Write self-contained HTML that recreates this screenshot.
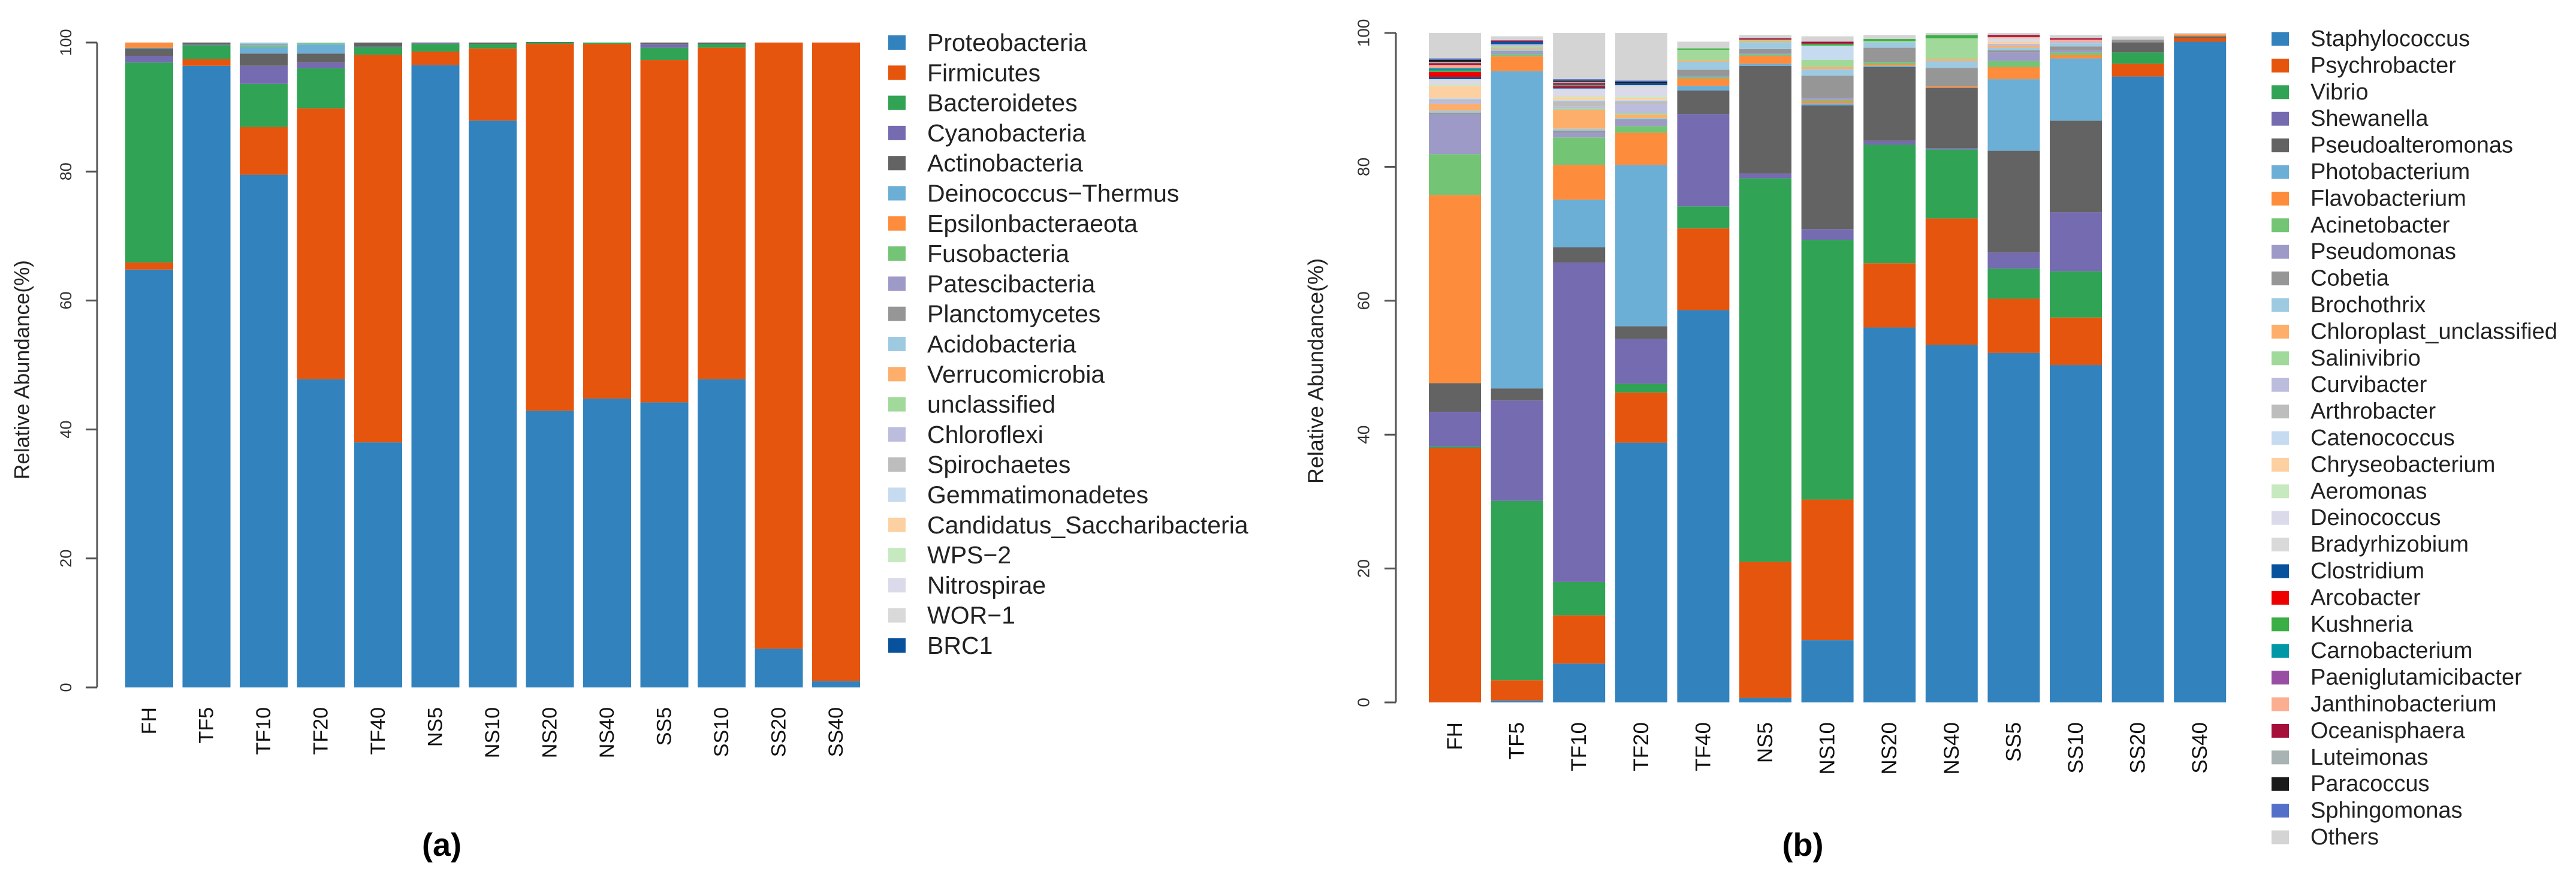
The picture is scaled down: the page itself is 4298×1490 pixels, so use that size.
<!DOCTYPE html>
<html><head><meta charset="utf-8">
<style>
html,body{margin:0;padding:0;background:#fff;}
svg{display:block;font-family:"Liberation Sans",Arial,sans-serif;}
</style></head>
<body>
<svg id="fig" width="4298" height="1490" viewBox="0 0 4298 1490">
  <g id="chartA"></g>
  <g id="chartB"></g>
  <text x="737" y="1428" font-size="54" font-weight="bold" text-anchor="middle">(a)</text>
  <text x="3008" y="1428" font-size="54" font-weight="bold" text-anchor="middle">(b)</text>
</svg>
<script>
const samples = ["FH","TF5","TF10","TF20","TF40","NS5","NS10","NS20","NS40","SS5","SS10","SS20","SS40"];
const yTicks = [0,20,40,60,80,100];

// Chart (a): phylum level
const aProteobacteria = [64.8,96.4,79.5,47.8,38.0,96.5,87.9,42.9,44.8,44.2,47.8,6.0,1.0];
const aFirmicutes     = [1.1,1.0,7.4,42.0,60.1,2.1,11.2,56.9,55.0,53.1,51.4,94.0,99.0];
const aBacteroidetes  = [31.0,2.2,6.7,6.2,1.2,1.2,0.7,0.2,0.2,1.9,0.6,0,0];
const aCyanobacteria  = [1.0,0.1,2.8,0.9,0.1,0.1,0,0,0,0.5,0,0,0];
const aActinobacteria = [1.2,0.3,1.9,1.4,0.6,0.1,0.2,0.1,0,0.3,0.2,0,0];
const aDeinococcus    = [0.1,0,1.0,1.4,0,0,0,0,0,0,0,0,0];
const aEpsilon        = [0.8,0,0,0,0,0,0,0,0,0,0,0,0];
const aFuso           = [0,0,0.3,0.2,0,0,0,0,0,0,0,0,0];
const aPatesci        = [0,0,0.2,0,0,0,0,0,0,0,0,0,0];
const aPlancto        = [0,0,0,0,0,0,0,0,0,0,0,0,0];
const aAcido          = [0,0,0.2,0.1,0,0,0,0,0,0,0,0,0];
const aRest           = [0,0,0,0,0,0,0,0,0,0,0,0,0];
const aNames = ["Proteobacteria","Firmicutes","Bacteroidetes","Cyanobacteria","Actinobacteria","Deinococcus\u2212Thermus","Epsilonbacteraeota","Fusobacteria","Patescibacteria","Planctomycetes","Acidobacteria","Verrucomicrobia","unclassified","Chloroflexi","Spirochaetes","Gemmatimonadetes","Candidatus_Saccharibacteria","WPS\u22122","Nitrospirae","WOR\u22121","BRC1"];
const aColors = ["#3182bd","#e6550d","#31a354","#756bb1","#636363","#6baed6","#fd8d3c","#74c476","#9e9ac8","#969696","#9ecae1","#fdae6b","#a1d99b","#bcbddc","#bdbdbd","#c6dbef","#fdd0a2","#c7e9c0","#dadaeb","#d9d9d9","#08519c"];
const aSeries = [aProteobacteria,aFirmicutes,aBacteroidetes,aCyanobacteria,aActinobacteria,aDeinococcus,aEpsilon,aFuso,aPatesci,aPlancto,aAcido,aRest];

// Chart (b): genus level
const bStaph   = [0,0.3,5.8,38.8,58.6,0.7,9.3,56.0,53.4,52.2,50.4,93.5,98.7];
const bPsychro = [38.0,3.0,7.2,7.5,12.2,20.3,21.0,9.6,18.9,8.1,7.1,1.9,0.5];
const bVibrio  = [0.2,26.8,5.0,1.3,3.3,57.3,38.8,17.7,10.3,4.5,6.9,1.7,0];
const bShew    = [5.2,15.0,47.7,6.7,13.8,0.7,1.6,0.6,0.2,2.4,8.8,0,0];
const bPseudoalt = [4.3,1.8,2.3,1.9,3.5,16.1,18.5,11.0,9.0,15.2,13.7,1.5,0.3];
const bPhotob  = [0,47.4,7.1,24.1,0.7,0.3,0.3,0.2,0,10.7,9.3,0,0];
const bFlavo   = [28.1,2.2,5.2,4.8,1.1,1.2,0.3,0.2,0.2,1.8,0.5,0,0.3];
const bAcineto = [6.1,0.3,4.1,1.0,0.2,0.2,0.2,0.3,0,0.9,0.4,0,0];
const bPseudomonas = [5.9,0.3,0.7,0.8,0.2,0.2,0.3,0,0,1.3,0.3,0,0];
const bCobetia = [0.3,0.2,0.3,0.2,0.9,0.6,3.3,2.2,2.8,0.3,0.6,0.4,0];
const bBrocho  = [0.3,0.3,0.3,0.2,1.2,1.0,1.0,0.8,1.0,0.4,0.4,0,0];
const bChloro  = [1.0,0.2,2.8,0.5,0.2,0.2,0.3,0,0.3,0.3,0,0,0];
const bSalini  = [0,0.2,0.2,0.2,1.6,0.2,1.1,0.2,3.1,0,0,0,0];
const bCurvi   = [0.4,0.3,0.3,1.4,0,0,0,0,0,0.3,0.3,0,0];
const bArthro  = [0.3,0,0.8,0.4,0,0,0,0,0,0,0,0,0];
const bCateno  = [0.2,0,0.2,0.2,0,0,2.1,0,0,0,0,0,0];
const bChryseo = [1.8,0,0.4,0.3,0,0,0,0,0,0.3,0,0,0];
const bAeromonas = [0.2,0,0.2,0.2,0,0,0,0,0,0,0,0,0];
const bDeinococcus = [0.5,0,0.9,1.4,0,0,0,0,0,0.3,0,0,0];
const bBradyrhizo = [0.3,0,0.2,0.3,0,0,0,0,0,0.2,0,0,0];
const bClostridium = [0.3,0.4,0.2,0.3,0,0,0,0,0,0,0,0,0];
const bArcobacter = [0.8,0,0.2,0,0,0,0,0,0,0,0,0,0];
const bKushneria = [0.2,0,0.1,0,0.2,0,0.3,0.3,0.5,0,0,0,0];
const bCarno   = [0.3,0,0,0,0,0,0,0,0,0,0,0,0];
const bPaeni   = [0.1,0,0.1,0,0,0,0,0,0,0,0,0,0];
const bJanthino = [0.4,0,0,0,0,0,0,0,0,0.2,0.3,0,0];
const bOceanis = [0.3,0.2,0.2,0,0,0.2,0.3,0,0,0.3,0.2,0,0];
const bLuteimonas = [0.2,0,0.2,0,0,0,0,0,0,0,0,0,0];
const bParacoccus = [0.3,0,0.2,0.2,0,0,0,0,0,0,0,0,0];
const bSphingo = [0.2,0,0.2,0.2,0,0,0,0,0,0,0,0,0];
const bOthers  = [3.8,0.6,6.9,7.1,1.0,0.5,0.8,0.6,0.3,0.3,0.5,0.5,0.2];
const bNames = ["Staphylococcus","Psychrobacter","Vibrio","Shewanella","Pseudoalteromonas","Photobacterium","Flavobacterium","Acinetobacter","Pseudomonas","Cobetia","Brochothrix","Chloroplast_unclassified","Salinivibrio","Curvibacter","Arthrobacter","Catenococcus","Chryseobacterium","Aeromonas","Deinococcus","Bradyrhizobium","Clostridium","Arcobacter","Kushneria","Carnobacterium","Paeniglutamicibacter","Janthinobacterium","Oceanisphaera","Luteimonas","Paracoccus","Sphingomonas","Others"];
const bColors = ["#3182bd","#e6550d","#31a354","#756bb1","#636363","#6baed6","#fd8d3c","#74c476","#9e9ac8","#969696","#9ecae1","#fdae6b","#a1d99b","#bcbddc","#bdbdbd","#c6dbef","#fdd0a2","#c7e9c0","#dadaeb","#d9d9d9","#08519c","#ee0000","#3cae46","#0097a7","#984ea3","#fcae91","#a50f3a","#aab3b3","#1a1a1a","#5470c9","#d4d4d4"];
const bSeries = [bStaph,bPsychro,bVibrio,bShew,bPseudoalt,bPhotob,bFlavo,bAcineto,bPseudomonas,bCobetia,bBrocho,bChloro,bSalini,bCurvi,bArthro,bCateno,bChryseo,bAeromonas,bDeinococcus,bBradyrhizo,bClostridium,bArcobacter,bKushneria,bCarno,bPaeni,bJanthino,bOceanis,bLuteimonas,bParacoccus,bSphingo,bOthers];

const NS = "http://www.w3.org/2000/svg";
function mk(tag, attrs, parent){
  const e = document.createElementNS(NS, tag);
  for (const k in attrs) e.setAttribute(k, attrs[k]);
  parent.appendChild(e);
  return e;
}

function drawChart(g, cfg){
  const yScale = v => cfg.y0 - (cfg.y0 - cfg.y100) * v / 100;
  const xLeft = i => cfg.bar0 + i * cfg.pitch;
  const ax = mk("line", {x1:cfg.axisX, x2:cfg.axisX, y1:yScale(100), y2:yScale(0), stroke:"#555", "stroke-width":3}, g);
  
  
  yTicks.forEach(t => {
    const tk = mk("line", {x1:cfg.axisX-19, x2:cfg.axisX, y1:yScale(t), y2:yScale(t), stroke:"#555", "stroke-width":3}, g);
    
    
    const tl = mk("text", {x:0, y:0, "font-size":cfg.tickFont, fill:"#333", "text-anchor":"middle", "dominant-baseline":"central",
      transform:`translate(${cfg.tickLabelX},${yScale(t)}) rotate(-90)`}, g);
    tl.textContent = String(t);
    
    
  });
  const title = mk("text", {x:0, y:0, "font-size":cfg.titleFont, fill:"#222", "text-anchor":"middle", "dominant-baseline":"central",
    transform:`translate(${cfg.titleX},${cfg.titleY}) rotate(-90)`}, g);
  title.textContent = "Relative Abundance(%)";
  
  
  samples.forEach((s, i) => {
    let cum = 0;
    cfg.series.forEach((arr, k) => {
      const v = arr[i];
      if (!v) { return; }
      const yTop = yScale(cum + v), yBot = yScale(cum);
      const r = mk("rect", {x:xLeft(i), y:yTop, width:cfg.barW, height:Math.max(0, yBot - yTop), fill:cfg.colors[k]}, g);
      
      
      cum += v;
    });
    const lb = mk("text", {x:0, y:0, "font-size":cfg.xFont, fill:"#111", "text-anchor":"end", "dominant-baseline":"central",
      transform:`translate(${xLeft(i) + cfg.barW/2},${cfg.xLabelTop}) rotate(-90)`}, g);
    lb.textContent = s;
    
    
  });
  cfg.names.forEach((n, k) => {
    const cy = cfg.legY0 + k * cfg.legStep;
    const sq = mk("rect", {x:cfg.legSqX, y:cy - cfg.legSqH/2, width:29, height:cfg.legSqH, fill:cfg.colors[k]}, g);
    
    
    const t = mk("text", {x:cfg.legTextX, y:cy, "font-size":cfg.legFont, fill:"#222", "dominant-baseline":"central"}, g);
    t.textContent = n;
    
    
  });
}

drawChart(document.getElementById("chartA"), {
  id:"a", series:aSeries, names:aNames, colors:aColors,
  y0:1147, y100:71, axisX:162, bar0:209, pitch:95.5, barW:80,
  tickLabelX:110, tickFont:27, titleX:37, titleY:617, titleFont:35,
  xFont:34, xLabelTop:1180,
  legY0:71, legStep:50.3, legSqX:1482, legSqH:24, legTextX:1547, legFont:41
});
drawChart(document.getElementById("chartB"), {
  id:"b", series:bSeries, names:bNames, colors:bColors,
  y0:1172, y100:55, axisX:2329, bar0:2384, pitch:103.6, barW:87,
  tickLabelX:2275, tickFont:28, titleX:2195, titleY:619, titleFont:36,
  xFont:35, xLabelTop:1205,
  legY0:65, legStep:44.4, legSqX:3790, legSqH:23, legTextX:3855, legFont:38
});
</script>
</body></html>
